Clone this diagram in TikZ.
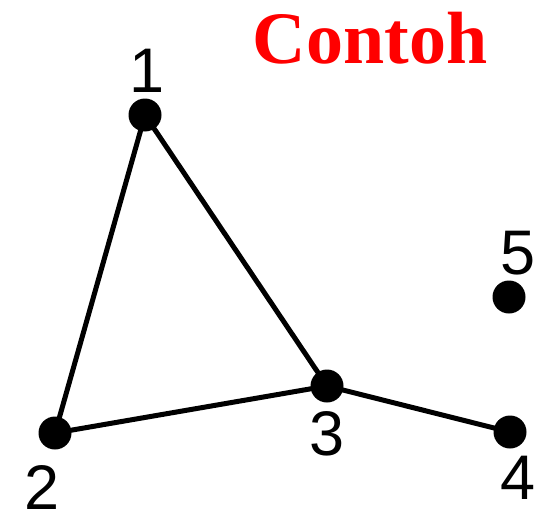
\documentclass[tikz,border=0pt]{standalone}
\usepackage{fontspec}
\setmainfont{Liberation Serif}
\newfontfamily\labfont{Liberation Sans}
\definecolor{titlered}{RGB}{255,0,0}
\begin{document}
\begin{tikzpicture}[x=1pt,y=-1pt,
  vert/.style={circle,fill=black,minimum size=33pt,inner sep=0pt},
  vlabel/.style={inner sep=0pt,font=\labfont\fontsize{63}{63}\selectfont},
  edge/.style={line width=5pt}]
\useasboundingbox (0,0) rectangle (540,519);
\node[vert] (v1) at (145,115) {};
\node[vert] (v2) at (55,433) {};
\node[vert] (v3) at (327,386) {};
\node[vert] (v4) at (510,432) {};
\node[vert] (v5) at (509,297) {};
\draw[edge] (v1.center) -- (v2.center) -- (v3.center) -- (v1.center);
\draw[edge] (v3.center) -- (v4.center);
\node[vlabel] (l1) at (147,71) {1};
\node[vlabel] (l2) at (42,487) {2};
\node[vlabel] (l3) at (327,434) {3};
\node[vlabel] (l4) at (518,478) {4};
\node[vlabel] (l5) at (518,253) {5};
\node[inner sep=0pt,text=titlered,font=\bfseries\fontsize{74}{74}\selectfont] (title) at (370,38) {Contoh};
\end{tikzpicture}
\end{document}
